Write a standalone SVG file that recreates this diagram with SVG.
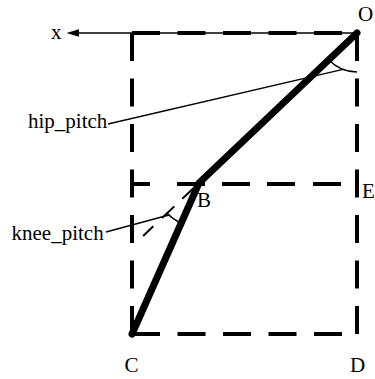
<svg xmlns="http://www.w3.org/2000/svg" width="375" height="379" viewBox="0 0 375 379">
<style>
.frame{fill:none;stroke:#000;stroke-width:4;stroke-dasharray:28 17.5}
.leg{fill:none;stroke:#000;stroke-width:7;stroke-linecap:round;stroke-linejoin:round}
.thin{fill:none;stroke:#000;stroke-width:1.3}
.lbl{font-family:'Liberation Serif','Times New Roman',serif;font-size:21px;fill:#000}
</style>
<rect width="375" height="379" fill="#fff"/>
<g id="axis">
<line class="thin" x1="78" y1="33" x2="357" y2="33"/>
<polygon points="66.5,33 79,29.3 79,36.7" fill="#000"/>
<text class="lbl" font-family="Liberation Serif, serif" x="51" y="39">x</text>
</g>
<g id="frame">
<path class="frame" d="M132,33 H357"/>
<path class="frame" d="M132,334 H357"/>
<path class="frame" d="M132,33 V334"/>
<path class="frame" d="M357,33 V334"/>
<path class="frame" d="M132,184 H357" style="stroke-dasharray:18 27 28 17 28 17 28 18 28 20"/>
</g>
<g id="connectors">
<path class="thin" d="M199,183 L141.5,237.5" style="stroke-width:2;stroke-dasharray:23 11 17 12 14"/>
<path class="thin" d="M328.7,59.8 A39,39 0 0 0 357,72"/>
<path class="thin" d="M167.1,213.3 A44,44 0 0 0 181.1,223.2"/>
<line class="thin" x1="108" y1="124" x2="343" y2="69.4"/>
<line class="thin" x1="106" y1="232" x2="169" y2="215"/>
</g>
<g id="legs">
<polyline class="leg" points="357,33 199,183 132,334"/>
</g>
<g id="O"><text class="lbl" x="358" y="21">O</text></g>
<g id="B"><text class="lbl" x="197" y="207">B</text></g>
<g id="C"><text class="lbl" x="124.5" y="372">C</text></g>
<g id="D"><text class="lbl" x="350" y="372">D</text></g>
<g id="E"><text class="lbl" x="362" y="198">E</text></g>
<g id="hip_pitch"><text class="lbl" x="28" y="128">hip_pitch</text></g>
<g id="knee_pitch"><text class="lbl" x="11.5" y="240">knee_pitch</text></g>
</svg>
